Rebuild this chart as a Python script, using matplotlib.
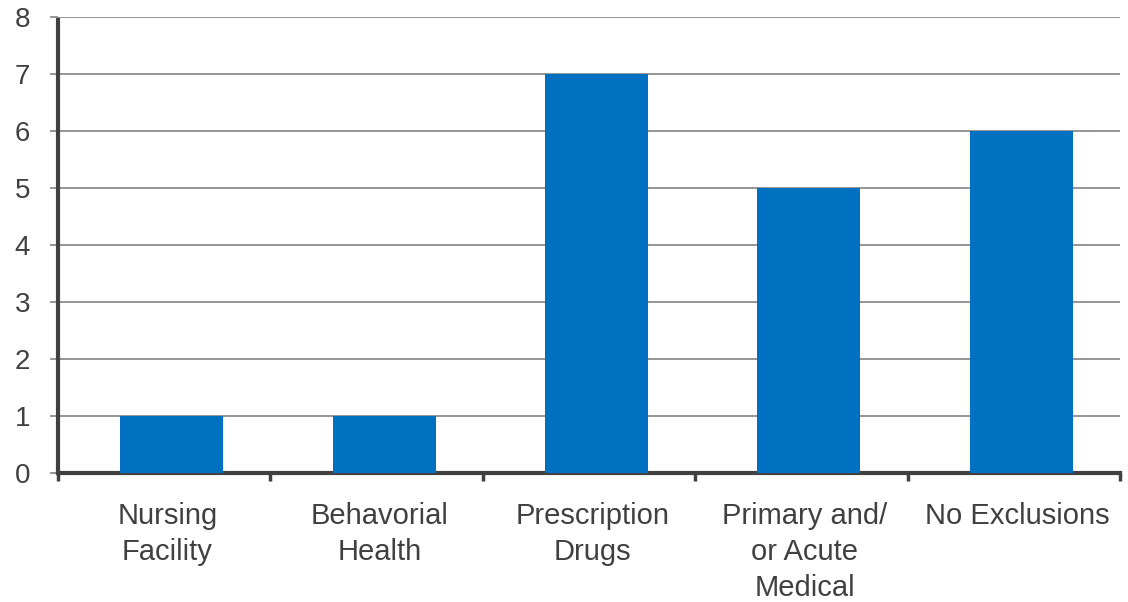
import matplotlib
matplotlib.use("Agg")
import matplotlib.pyplot as plt
from matplotlib.ticker import FixedLocator

categories = ["Nursing\nFacility", "Behavorial\nHealth", "Prescription\nDrugs",
              "Primary and/\nor Acute\nMedical", "No Exclusions"]
values = [1, 1, 7, 5, 6]
y_ticks = [0, 1, 2, 3, 4, 5, 6, 7, 8]

plt.rcParams['font.family'] = ['Liberation Sans', 'DejaVu Sans']
text_color = "#404040"
bar_color = "#0070C0"

fig = plt.figure(figsize=(11.28, 6.02), dpi=100)
ax = fig.add_axes([58/1128, 1 - 473/602, (1120 - 58)/1128, (473 - 17)/602])

bar_offset = 0.035
label_offset = 0.015
x = [i + bar_offset for i in range(len(categories))]
ax.bar(x, values, width=0.485, color=bar_color, zorder=3)

ax.set_xlim(-0.5, len(categories) - 0.5)
ax.set_ylim(0, 8)
ax.set_yticks(y_ticks)
ax.set_yticklabels([str(t) for t in y_ticks])
ax.yaxis.grid(True, color="#8c8c8c", linewidth=1.3, zorder=0)
ax.tick_params(axis='y', length=6, width=1.3, color="#8c8c8c", labelsize=20,
               labelcolor=text_color, pad=14)

ax.set_xticks([i + label_offset for i in range(len(categories))])
ax.set_xticklabels(categories)
ax.tick_params(axis='x', which='major', length=0, labelsize=21, labelcolor=text_color, pad=21)
ax.xaxis.set_minor_locator(FixedLocator([i - 0.5 for i in range(len(categories) + 1)]))
ax.tick_params(axis='x', which='minor', length=6, width=2.5, color=text_color)

for lbl in ax.get_xticklabels():
    lbl.set_linespacing(1.36)
    lbl.set_verticalalignment('top')

for s in ['top', 'right']:
    ax.spines[s].set_visible(False)
ax.spines['left'].set_color(text_color)
ax.spines['left'].set_linewidth(3)
ax.spines['bottom'].set_color(text_color)
ax.spines['bottom'].set_linewidth(3)
ax.spines['left'].set_bounds(0, 7.95)
ax.set_axisbelow(True)

fig.savefig("out.png", dpi=100, facecolor="white")
